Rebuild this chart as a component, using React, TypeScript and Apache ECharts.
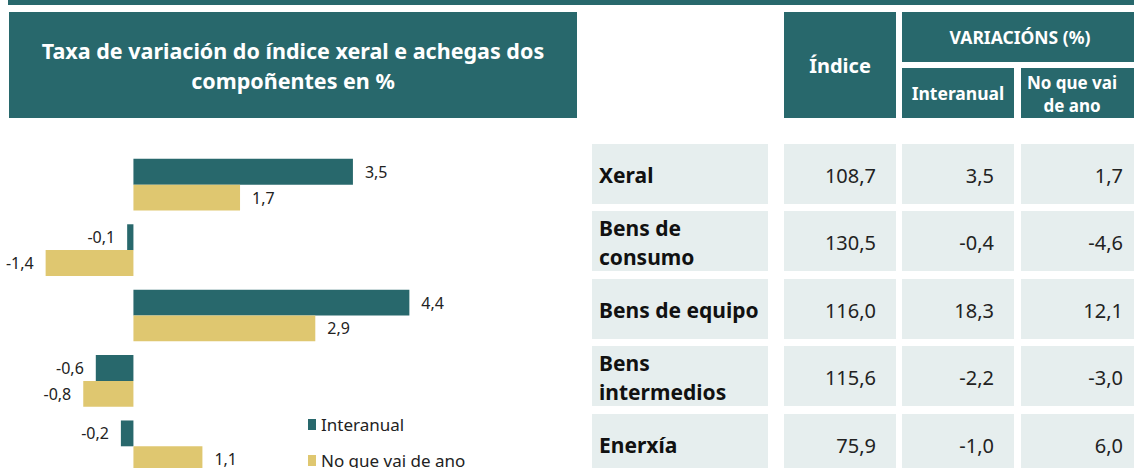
import React, { useEffect, useRef } from "react";
import * as echarts from "echarts";

const TEAL = "#28686c";
const YELLOW = "#dfc770";
const CELL = "#e6eeee";
const FONT = "'Noto Sans', 'Open Sans', sans-serif";

// Bar chart data (left)
const barCategories = ["Xeral", "Bens de consumo", "Bens de equipo", "Bens intermedios", "Enerxía"];
const barInteranual = [3.5, -0.1, 4.4, -0.6, -0.2];
const barNoQueVaiDeAno = [1.7, -1.4, 2.9, -0.8, 1.1];
const seriesNames = ["Interanual", "No que vai de ano"];

// Table data (right)
const tableLabels = ["Xeral", "Bens de\nconsumo", "Bens de equipo", "Bens\nintermedios", "Enerxía"];
const tableIndice = [108.7, 130.5, 116.0, 115.6, 75.9];
const tableInteranual = [3.5, -0.4, 18.3, -2.2, -1.0];
const tableNoQue = [1.7, -4.6, 12.1, -3.0, 6.0];

const title = "Taxa de variación do índice xeral e achegas dos\ncompoñentes en %";

const fmt = (v: number) => v.toFixed(1).replace(".", ",");

export default function App() {
  const ref = useRef<HTMLDivElement>(null);
  useEffect(() => {
    if (!ref.current) return;
    const chart = echarts.init(ref.current, undefined, { renderer: "svg" });

    const rowTops = [144, 211, 279, 346, 414];
    const rowH = 60;
    const graphics: any[] = [
      { type: "rect", shape: { x: 8, y: 0, width: 1126, height: 5 }, style: { fill: TEAL } },
      { type: "rect", shape: { x: 9, y: 12, width: 568, height: 106 }, style: { fill: TEAL } },
      {
        type: "text",
        style: {
          text: title, x: 293, y: 65, align: "center", verticalAlign: "middle",
          fill: "#fff", fontSize: 21.5, fontWeight: "bold", fontFamily: FONT, lineHeight: 30,
        },
      },
      { type: "rect", shape: { x: 784, y: 12, width: 112, height: 106 }, style: { fill: TEAL } },
      {
        type: "text",
        style: { text: "Índice", x: 840, y: 65, align: "center", verticalAlign: "middle", fill: "#fff", fontSize: 20, fontWeight: "bold", fontFamily: FONT },
      },
      { type: "rect", shape: { x: 902, y: 12, width: 232, height: 50 }, style: { fill: TEAL } },
      {
        type: "text",
        style: { text: "VARIACIÓNS (%)", x: 1020, y: 37, align: "center", verticalAlign: "middle", fill: "#fff", fontSize: 17.5, fontWeight: "bold", fontFamily: FONT },
      },
      { type: "rect", shape: { x: 902, y: 68, width: 112, height: 50 }, style: { fill: TEAL } },
      {
        type: "text",
        style: { text: "Interanual", x: 958, y: 93, align: "center", verticalAlign: "middle", fill: "#fff", fontSize: 17.5, fontWeight: "bold", fontFamily: FONT },
      },
      { type: "rect", shape: { x: 1021, y: 68, width: 113, height: 50 }, style: { fill: TEAL } },
      {
        type: "text",
        style: { text: "No que vai\nde ano", x: 1072, y: 94, align: "center", verticalAlign: "middle", fill: "#fff", fontSize: 17, fontWeight: "bold", fontFamily: FONT, lineHeight: 23 },
      },
    ];

    tableLabels.forEach((lab, i) => {
      const top = rowTops[i];
      const cy = top + rowH / 2 + 1;
      graphics.push(
        { type: "rect", shape: { x: 592, y: top, width: 176, height: rowH }, style: { fill: CELL } },
        { type: "rect", shape: { x: 784, y: top, width: 112, height: rowH }, style: { fill: CELL } },
        { type: "rect", shape: { x: 902, y: top, width: 112, height: rowH }, style: { fill: CELL } },
        { type: "rect", shape: { x: 1021, y: top, width: 113, height: rowH }, style: { fill: CELL } },
        {
          type: "text",
          style: { text: lab, x: 599, y: cy, align: "left", verticalAlign: "middle", fill: "#111", fontSize: 21, fontWeight: "bold", fontFamily: FONT, lineHeight: 29 },
        },
        {
          type: "text",
          style: { text: fmt(tableIndice[i]), x: 876, y: cy, align: "right", verticalAlign: "middle", fill: "#222", fontSize: 20, fontFamily: FONT },
        },
        {
          type: "text",
          style: { text: fmt(tableInteranual[i]), x: 994, y: cy, align: "right", verticalAlign: "middle", fill: "#222", fontSize: 20, fontFamily: FONT },
        },
        {
          type: "text",
          style: { text: fmt(tableNoQue[i]), x: 1123, y: cy, align: "right", verticalAlign: "middle", fill: "#222", fontSize: 20, fontFamily: FONT },
        }
      );
    });

    const mkData = (vals: number[]) =>
      vals.map((v) => ({
        value: v,
        label: { position: v >= 0 ? "right" : "left" },
      }));

    const labelCfg = {
      show: true,
      distance: 12,
      fontSize: 16,
      color: "#222",
      fontFamily: FONT,
      formatter: (p: any) => fmt(p.value),
    };

    chart.setOption({
      animation: false,
      textStyle: { fontFamily: FONT },
      grid: { left: 8, width: 439, top: 152, height: 327, containLabel: false },
      xAxis: {
        type: "value", min: -2, max: 5, interval: 1,
        show: false, splitLine: { show: false },
      },
      yAxis: {
        type: "category", data: barCategories, inverse: true,
        axisLine: { show: false }, axisTick: { show: false }, axisLabel: { show: false },
      },
      legend: {
        orient: "vertical",
        left: 308,
        top: 416,
        height: 100,
        padding: 0,
        itemWidth: 8,
        itemHeight: 11,
        itemGap: 19,
        icon: "rect",
        textStyle: { fontSize: 17, color: "#222", fontFamily: FONT },
        data: seriesNames,
      },
      series: [
        {
          name: seriesNames[0], type: "bar", data: mkData(barInteranual),
          itemStyle: { color: TEAL }, barGap: "0%", barCategoryGap: "21%",
          label: labelCfg,
        },
        {
          name: seriesNames[1], type: "bar", data: mkData(barNoQueVaiDeAno),
          itemStyle: { color: YELLOW }, barGap: "0%", barCategoryGap: "21%",
          label: labelCfg,
        },
      ],
      graphic: graphics,
    });
    return () => chart.dispose();
  }, []);
  return (
    <div style={{ position: "absolute", left: 0, top: 0, width: 1134, height: 468, overflow: "hidden" }}>
      <div ref={ref} style={{ width: 1134, height: 520 }} />
    </div>
  );
}
